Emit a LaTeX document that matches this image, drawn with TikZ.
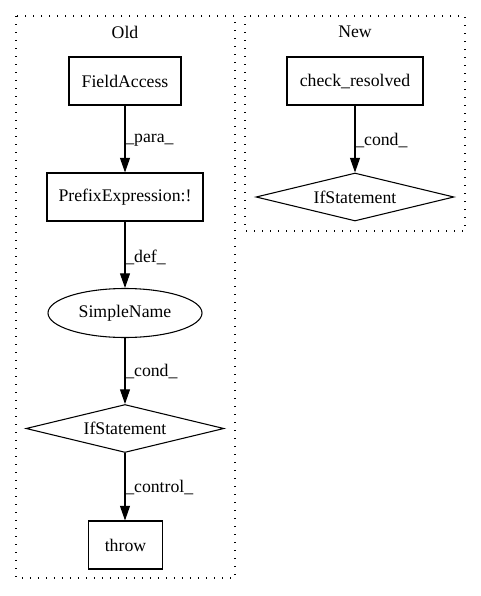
\documentclass[tikz,border=0pt]{standalone}
\usepackage{fontspec}
\setmainfont{Liberation Serif}
\usetikzlibrary{shapes.geometric,arrows.meta}
\begin{document}
\begin{tikzpicture}[x=0.75pt,y=-0.75pt,
  every node/.style={font=\fontsize{13.3}{15}\selectfont},
  boxnode/.style={draw,line width=0.8pt,rectangle,inner sep=0pt,minimum height=36pt},
  ellnode/.style={draw,line width=0.8pt,ellipse,inner sep=0pt},
  dianode/.style={draw,line width=0.8pt,diamond,inner sep=0pt,shape aspect=4.1,minimum width=148.5pt,minimum height=36pt},
  cluster/.style={draw,line width=0.8pt,dash pattern=on 0.8pt off 5.2pt},
  edge/.style={-{Triangle[length=11pt,width=7.5pt]},line width=0.8pt},
  elabel/.style={anchor=west,inner sep=0pt}]
\useasboundingbox (0,0) rectangle (480,596);
% clusters
\draw[cluster] (16,16) rectangle (235,578);
\draw[cluster] (245,16) rectangle (465,231);
\node (oldlbl) at (125,32) {Old};
\node (newlbl) at (355,32) {New};
% Old nodes
\node[boxnode,minimum width=84pt] (fa) at (125,81) {FieldAccess};
\node[boxnode,minimum width=117pt] (pe) at (125,197) {PrefixExpression:!};
\node[ellnode,minimum width=115.5pt,minimum height=36.75pt] (sn) at (125,313) {SimpleName};
\node[dianode] (if1) at (125,428.5) {IfStatement};
\node[boxnode,minimum width=55pt] (th) at (125.5,545) {throw};
% New nodes
\node[boxnode,minimum width=102pt] (cr) at (355,81) {check\_resolved};
\node[dianode] (if2) at (355,197) {IfStatement};
% edges
\draw[edge] (fa.south) -- (pe.north);
\draw[edge] (pe.south) -- (sn.north);
\draw[edge] (sn.south) -- (if1.north);
\draw[edge] (if1.south) -- (th.north -| if1.south);
\draw[edge] (cr.south) -- (if2.north);
% edge labels
\node[elabel] (l1) at (125,140) {\_para\_};
\node[elabel] (l2) at (125,257) {\_def\_};
\node[elabel] (l3) at (125,371) {\_cond\_};
\node[elabel] (l4) at (125,487) {\_control\_};
\node[elabel] (l5) at (355,140) {\_cond\_};
\end{tikzpicture}
\end{document}
